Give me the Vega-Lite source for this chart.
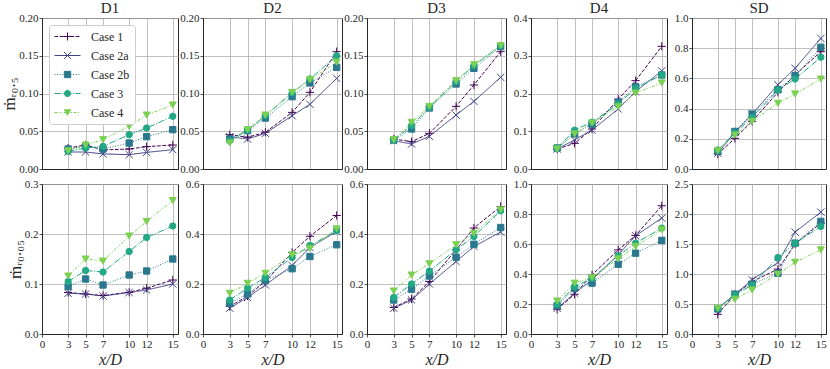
{
"$schema":"https://vega.github.io/schema/vega-lite/v6.json",
"padding":{"left":0,"top":0,"right":0,"bottom":0},
"data":{"values":[
{"p":"D1","r":"a","c":"Case 1","x":3,"y":0.0278},{"p":"D1","r":"a","c":"Case 1","x":5,"y":0.0318},{"p":"D1","r":"a","c":"Case 1","x":7,"y":0.0252},{"p":"D1","r":"a","c":"Case 1","x":10,"y":0.0265},{"p":"D1","r":"a","c":"Case 1","x":12,"y":0.0296},{"p":"D1","r":"a","c":"Case 1","x":15,"y":0.0318},
{"p":"D1","r":"a","c":"Case 2a","x":3,"y":0.0225},{"p":"D1","r":"a","c":"Case 2a","x":5,"y":0.0225},{"p":"D1","r":"a","c":"Case 2a","x":7,"y":0.020},{"p":"D1","r":"a","c":"Case 2a","x":10,"y":0.019},{"p":"D1","r":"a","c":"Case 2a","x":12,"y":0.022},{"p":"D1","r":"a","c":"Case 2a","x":15,"y":0.0256},
{"p":"D1","r":"a","c":"Case 2b","x":3,"y":0.0265},{"p":"D1","r":"a","c":"Case 2b","x":5,"y":0.030},{"p":"D1","r":"a","c":"Case 2b","x":7,"y":0.0265},{"p":"D1","r":"a","c":"Case 2b","x":10,"y":0.0344},{"p":"D1","r":"a","c":"Case 2b","x":12,"y":0.0428},{"p":"D1","r":"a","c":"Case 2b","x":15,"y":0.0521},
{"p":"D1","r":"a","c":"Case 3","x":3,"y":0.0234},{"p":"D1","r":"a","c":"Case 3","x":5,"y":0.0278},{"p":"D1","r":"a","c":"Case 3","x":7,"y":0.030},{"p":"D1","r":"a","c":"Case 3","x":10,"y":0.0455},{"p":"D1","r":"a","c":"Case 3","x":12,"y":0.0543},{"p":"D1","r":"a","c":"Case 3","x":15,"y":0.0698},
{"p":"D1","r":"a","c":"Case 4","x":3,"y":0.0243},{"p":"D1","r":"a","c":"Case 4","x":5,"y":0.0318},{"p":"D1","r":"a","c":"Case 4","x":7,"y":0.0389},{"p":"D1","r":"a","c":"Case 4","x":10,"y":0.0565},{"p":"D1","r":"a","c":"Case 4","x":12,"y":0.0715},{"p":"D1","r":"a","c":"Case 4","x":15,"y":0.0848},
{"p":"D2","r":"a","c":"Case 1","x":3,"y":0.0455},{"p":"D2","r":"a","c":"Case 1","x":5,"y":0.042},{"p":"D2","r":"a","c":"Case 1","x":7,"y":0.0486},{"p":"D2","r":"a","c":"Case 1","x":10,"y":0.075},{"p":"D2","r":"a","c":"Case 1","x":12,"y":0.1015},{"p":"D2","r":"a","c":"Case 1","x":15,"y":0.1554},
{"p":"D2","r":"a","c":"Case 2a","x":3,"y":0.0428},{"p":"D2","r":"a","c":"Case 2a","x":5,"y":0.0397},{"p":"D2","r":"a","c":"Case 2a","x":7,"y":0.0472},{"p":"D2","r":"a","c":"Case 2a","x":10,"y":0.0706},{"p":"D2","r":"a","c":"Case 2a","x":12,"y":0.0857},{"p":"D2","r":"a","c":"Case 2a","x":15,"y":0.120},
{"p":"D2","r":"a","c":"Case 2b","x":3,"y":0.0397},{"p":"D2","r":"a","c":"Case 2b","x":5,"y":0.0508},{"p":"D2","r":"a","c":"Case 2b","x":7,"y":0.0675},{"p":"D2","r":"a","c":"Case 2b","x":10,"y":0.0958},{"p":"D2","r":"a","c":"Case 2b","x":12,"y":0.114},{"p":"D2","r":"a","c":"Case 2b","x":15,"y":0.1347},
{"p":"D2","r":"a","c":"Case 3","x":3,"y":0.0375},{"p":"D2","r":"a","c":"Case 3","x":5,"y":0.0517},{"p":"D2","r":"a","c":"Case 3","x":7,"y":0.0706},{"p":"D2","r":"a","c":"Case 3","x":10,"y":0.1007},{"p":"D2","r":"a","c":"Case 3","x":12,"y":0.1192},{"p":"D2","r":"a","c":"Case 3","x":15,"y":0.150},
{"p":"D2","r":"a","c":"Case 4","x":3,"y":0.0344},{"p":"D2","r":"a","c":"Case 4","x":5,"y":0.052},{"p":"D2","r":"a","c":"Case 4","x":7,"y":0.0715},{"p":"D2","r":"a","c":"Case 4","x":10,"y":0.1015},{"p":"D2","r":"a","c":"Case 4","x":12,"y":0.1183},{"p":"D2","r":"a","c":"Case 4","x":15,"y":0.1413},
{"p":"D3","r":"a","c":"Case 1","x":3,"y":0.0397},{"p":"D3","r":"a","c":"Case 1","x":5,"y":0.0362},{"p":"D3","r":"a","c":"Case 1","x":7,"y":0.0472},{"p":"D3","r":"a","c":"Case 1","x":10,"y":0.083},{"p":"D3","r":"a","c":"Case 1","x":12,"y":0.1113},{"p":"D3","r":"a","c":"Case 1","x":15,"y":0.1554},
{"p":"D3","r":"a","c":"Case 2a","x":3,"y":0.0375},{"p":"D3","r":"a","c":"Case 2a","x":5,"y":0.0331},{"p":"D3","r":"a","c":"Case 2a","x":7,"y":0.0433},{"p":"D3","r":"a","c":"Case 2a","x":10,"y":0.0715},{"p":"D3","r":"a","c":"Case 2a","x":12,"y":0.0896},{"p":"D3","r":"a","c":"Case 2a","x":15,"y":0.1214},
{"p":"D3","r":"a","c":"Case 2b","x":3,"y":0.0384},{"p":"D3","r":"a","c":"Case 2b","x":5,"y":0.053},{"p":"D3","r":"a","c":"Case 2b","x":7,"y":0.0808},{"p":"D3","r":"a","c":"Case 2b","x":10,"y":0.1126},{"p":"D3","r":"a","c":"Case 2b","x":12,"y":0.1333},{"p":"D3","r":"a","c":"Case 2b","x":15,"y":0.162},
{"p":"D3","r":"a","c":"Case 3","x":3,"y":0.0384},{"p":"D3","r":"a","c":"Case 3","x":5,"y":0.0574},{"p":"D3","r":"a","c":"Case 3","x":7,"y":0.0817},{"p":"D3","r":"a","c":"Case 3","x":10,"y":0.116},{"p":"D3","r":"a","c":"Case 3","x":12,"y":0.1369},{"p":"D3","r":"a","c":"Case 3","x":15,"y":0.1634},
{"p":"D3","r":"a","c":"Case 4","x":3,"y":0.0389},{"p":"D3","r":"a","c":"Case 4","x":5,"y":0.0618},{"p":"D3","r":"a","c":"Case 4","x":7,"y":0.083},{"p":"D3","r":"a","c":"Case 4","x":10,"y":0.117},{"p":"D3","r":"a","c":"Case 4","x":12,"y":0.1382},{"p":"D3","r":"a","c":"Case 4","x":15,"y":0.1634},
{"p":"D4","r":"a","c":"Case 1","x":3,"y":0.053},{"p":"D4","r":"a","c":"Case 1","x":5,"y":0.068},{"p":"D4","r":"a","c":"Case 1","x":7,"y":0.106},{"p":"D4","r":"a","c":"Case 1","x":10,"y":0.185},{"p":"D4","r":"a","c":"Case 1","x":12,"y":0.234},{"p":"D4","r":"a","c":"Case 1","x":15,"y":0.325},
{"p":"D4","r":"a","c":"Case 2a","x":3,"y":0.053},{"p":"D4","r":"a","c":"Case 2a","x":5,"y":0.077},{"p":"D4","r":"a","c":"Case 2a","x":7,"y":0.103},{"p":"D4","r":"a","c":"Case 2a","x":10,"y":0.159},{"p":"D4","r":"a","c":"Case 2a","x":12,"y":0.205},{"p":"D4","r":"a","c":"Case 2a","x":15,"y":0.260},
{"p":"D4","r":"a","c":"Case 2b","x":3,"y":0.0556},{"p":"D4","r":"a","c":"Case 2b","x":5,"y":0.093},{"p":"D4","r":"a","c":"Case 2b","x":7,"y":0.119},{"p":"D4","r":"a","c":"Case 2b","x":10,"y":0.177},{"p":"D4","r":"a","c":"Case 2b","x":12,"y":0.218},{"p":"D4","r":"a","c":"Case 2b","x":15,"y":0.249},
{"p":"D4","r":"a","c":"Case 3","x":3,"y":0.0556},{"p":"D4","r":"a","c":"Case 3","x":5,"y":0.103},{"p":"D4","r":"a","c":"Case 3","x":7,"y":0.124},{"p":"D4","r":"a","c":"Case 3","x":10,"y":0.172},{"p":"D4","r":"a","c":"Case 3","x":12,"y":0.214},{"p":"D4","r":"a","c":"Case 3","x":15,"y":0.249},
{"p":"D4","r":"a","c":"Case 4","x":3,"y":0.053},{"p":"D4","r":"a","c":"Case 4","x":5,"y":0.093},{"p":"D4","r":"a","c":"Case 4","x":7,"y":0.122},{"p":"D4","r":"a","c":"Case 4","x":10,"y":0.165},{"p":"D4","r":"a","c":"Case 4","x":12,"y":0.201},{"p":"D4","r":"a","c":"Case 4","x":15,"y":0.228},
{"p":"SD","r":"a","c":"Case 1","x":3,"y":0.099},{"p":"SD","r":"a","c":"Case 1","x":5,"y":0.203},{"p":"SD","r":"a","c":"Case 1","x":7,"y":0.316},{"p":"SD","r":"a","c":"Case 1","x":10,"y":0.508},{"p":"SD","r":"a","c":"Case 1","x":12,"y":0.623},{"p":"SD","r":"a","c":"Case 1","x":15,"y":0.777},
{"p":"SD","r":"a","c":"Case 2a","x":3,"y":0.104},{"p":"SD","r":"a","c":"Case 2a","x":5,"y":0.243},{"p":"SD","r":"a","c":"Case 2a","x":7,"y":0.364},{"p":"SD","r":"a","c":"Case 2a","x":10,"y":0.558},{"p":"SD","r":"a","c":"Case 2a","x":12,"y":0.667},{"p":"SD","r":"a","c":"Case 2a","x":15,"y":0.865},
{"p":"SD","r":"a","c":"Case 2b","x":3,"y":0.117},{"p":"SD","r":"a","c":"Case 2b","x":5,"y":0.249},{"p":"SD","r":"a","c":"Case 2b","x":7,"y":0.364},{"p":"SD","r":"a","c":"Case 2b","x":10,"y":0.525},{"p":"SD","r":"a","c":"Case 2b","x":12,"y":0.618},{"p":"SD","r":"a","c":"Case 2b","x":15,"y":0.806},
{"p":"SD","r":"a","c":"Case 3","x":3,"y":0.126},{"p":"SD","r":"a","c":"Case 3","x":5,"y":0.238},{"p":"SD","r":"a","c":"Case 3","x":7,"y":0.342},{"p":"SD","r":"a","c":"Case 3","x":10,"y":0.523},{"p":"SD","r":"a","c":"Case 3","x":12,"y":0.596},{"p":"SD","r":"a","c":"Case 3","x":15,"y":0.740},
{"p":"SD","r":"a","c":"Case 4","x":3,"y":0.121},{"p":"SD","r":"a","c":"Case 4","x":5,"y":0.225},{"p":"SD","r":"a","c":"Case 4","x":7,"y":0.316},{"p":"SD","r":"a","c":"Case 4","x":10,"y":0.435},{"p":"SD","r":"a","c":"Case 4","x":12,"y":0.497},{"p":"SD","r":"a","c":"Case 4","x":15,"y":0.596},
{"p":"D1","r":"b","c":"Case 1","x":3,"y":0.083},{"p":"D1","r":"b","c":"Case 1","x":5,"y":0.080},{"p":"D1","r":"b","c":"Case 1","x":7,"y":0.077},{"p":"D1","r":"b","c":"Case 1","x":10,"y":0.0835},{"p":"D1","r":"b","c":"Case 1","x":12,"y":0.0915},{"p":"D1","r":"b","c":"Case 1","x":15,"y":0.108},
{"p":"D1","r":"b","c":"Case 2a","x":3,"y":0.0815},{"p":"D1","r":"b","c":"Case 2a","x":5,"y":0.080},{"p":"D1","r":"b","c":"Case 2a","x":7,"y":0.076},{"p":"D1","r":"b","c":"Case 2a","x":10,"y":0.083},{"p":"D1","r":"b","c":"Case 2a","x":12,"y":0.088},{"p":"D1","r":"b","c":"Case 2a","x":15,"y":0.100},
{"p":"D1","r":"b","c":"Case 2b","x":3,"y":0.095},{"p":"D1","r":"b","c":"Case 2b","x":5,"y":0.110},{"p":"D1","r":"b","c":"Case 2b","x":7,"y":0.098},{"p":"D1","r":"b","c":"Case 2b","x":10,"y":0.118},{"p":"D1","r":"b","c":"Case 2b","x":12,"y":0.126},{"p":"D1","r":"b","c":"Case 2b","x":15,"y":0.150},
{"p":"D1","r":"b","c":"Case 3","x":3,"y":0.105},{"p":"D1","r":"b","c":"Case 3","x":5,"y":0.127},{"p":"D1","r":"b","c":"Case 3","x":7,"y":0.124},{"p":"D1","r":"b","c":"Case 3","x":10,"y":0.165},{"p":"D1","r":"b","c":"Case 3","x":12,"y":0.193},{"p":"D1","r":"b","c":"Case 3","x":15,"y":0.216},
{"p":"D1","r":"b","c":"Case 4","x":3,"y":0.116},{"p":"D1","r":"b","c":"Case 4","x":5,"y":0.150},{"p":"D1","r":"b","c":"Case 4","x":7,"y":0.146},{"p":"D1","r":"b","c":"Case 4","x":10,"y":0.196},{"p":"D1","r":"b","c":"Case 4","x":12,"y":0.225},{"p":"D1","r":"b","c":"Case 4","x":15,"y":0.267},
{"p":"D2","r":"b","c":"Case 1","x":3,"y":0.110},{"p":"D2","r":"b","c":"Case 1","x":5,"y":0.152},{"p":"D2","r":"b","c":"Case 1","x":7,"y":0.210},{"p":"D2","r":"b","c":"Case 1","x":10,"y":0.326},{"p":"D2","r":"b","c":"Case 1","x":12,"y":0.391},{"p":"D2","r":"b","c":"Case 1","x":15,"y":0.474},
{"p":"D2","r":"b","c":"Case 2a","x":3,"y":0.103},{"p":"D2","r":"b","c":"Case 2a","x":5,"y":0.146},{"p":"D2","r":"b","c":"Case 2a","x":7,"y":0.196},{"p":"D2","r":"b","c":"Case 2a","x":10,"y":0.274},{"p":"D2","r":"b","c":"Case 2a","x":12,"y":0.346},{"p":"D2","r":"b","c":"Case 2a","x":15,"y":0.410},
{"p":"D2","r":"b","c":"Case 2b","x":3,"y":0.123},{"p":"D2","r":"b","c":"Case 2b","x":5,"y":0.160},{"p":"D2","r":"b","c":"Case 2b","x":7,"y":0.214},{"p":"D2","r":"b","c":"Case 2b","x":10,"y":0.261},{"p":"D2","r":"b","c":"Case 2b","x":12,"y":0.310},{"p":"D2","r":"b","c":"Case 2b","x":15,"y":0.357},
{"p":"D2","r":"b","c":"Case 3","x":3,"y":0.136},{"p":"D2","r":"b","c":"Case 3","x":5,"y":0.183},{"p":"D2","r":"b","c":"Case 3","x":7,"y":0.226},{"p":"D2","r":"b","c":"Case 3","x":10,"y":0.306},{"p":"D2","r":"b","c":"Case 3","x":12,"y":0.354},{"p":"D2","r":"b","c":"Case 3","x":15,"y":0.413},
{"p":"D2","r":"b","c":"Case 4","x":3,"y":0.163},{"p":"D2","r":"b","c":"Case 4","x":5,"y":0.203},{"p":"D2","r":"b","c":"Case 4","x":7,"y":0.243},{"p":"D2","r":"b","c":"Case 4","x":10,"y":0.317},{"p":"D2","r":"b","c":"Case 4","x":12,"y":0.343},{"p":"D2","r":"b","c":"Case 4","x":15,"y":0.421},
{"p":"D3","r":"b","c":"Case 1","x":3,"y":0.106},{"p":"D3","r":"b","c":"Case 1","x":5,"y":0.140},{"p":"D3","r":"b","c":"Case 1","x":7,"y":0.210},{"p":"D3","r":"b","c":"Case 1","x":10,"y":0.337},{"p":"D3","r":"b","c":"Case 1","x":12,"y":0.424},{"p":"D3","r":"b","c":"Case 1","x":15,"y":0.510},
{"p":"D3","r":"b","c":"Case 2a","x":3,"y":0.103},{"p":"D3","r":"b","c":"Case 2a","x":5,"y":0.136},{"p":"D3","r":"b","c":"Case 2a","x":7,"y":0.200},{"p":"D3","r":"b","c":"Case 2a","x":10,"y":0.290},{"p":"D3","r":"b","c":"Case 2a","x":12,"y":0.350},{"p":"D3","r":"b","c":"Case 2a","x":15,"y":0.408},
{"p":"D3","r":"b","c":"Case 2b","x":3,"y":0.136},{"p":"D3","r":"b","c":"Case 2b","x":5,"y":0.179},{"p":"D3","r":"b","c":"Case 2b","x":7,"y":0.232},{"p":"D3","r":"b","c":"Case 2b","x":10,"y":0.307},{"p":"D3","r":"b","c":"Case 2b","x":12,"y":0.359},{"p":"D3","r":"b","c":"Case 2b","x":15,"y":0.426},
{"p":"D3","r":"b","c":"Case 3","x":3,"y":0.146},{"p":"D3","r":"b","c":"Case 3","x":5,"y":0.200},{"p":"D3","r":"b","c":"Case 3","x":7,"y":0.252},{"p":"D3","r":"b","c":"Case 3","x":10,"y":0.337},{"p":"D3","r":"b","c":"Case 3","x":12,"y":0.390},{"p":"D3","r":"b","c":"Case 3","x":15,"y":0.493},
{"p":"D3","r":"b","c":"Case 4","x":3,"y":0.172},{"p":"D3","r":"b","c":"Case 4","x":5,"y":0.236},{"p":"D3","r":"b","c":"Case 4","x":7,"y":0.281},{"p":"D3","r":"b","c":"Case 4","x":10,"y":0.357},{"p":"D3","r":"b","c":"Case 4","x":12,"y":0.403},{"p":"D3","r":"b","c":"Case 4","x":15,"y":0.497},
{"p":"D4","r":"b","c":"Case 1","x":3,"y":0.165},{"p":"D4","r":"b","c":"Case 1","x":5,"y":0.265},{"p":"D4","r":"b","c":"Case 1","x":7,"y":0.394},{"p":"D4","r":"b","c":"Case 1","x":10,"y":0.561},{"p":"D4","r":"b","c":"Case 1","x":12,"y":0.657},{"p":"D4","r":"b","c":"Case 1","x":15,"y":0.855},
{"p":"D4","r":"b","c":"Case 2a","x":3,"y":0.171},{"p":"D4","r":"b","c":"Case 2a","x":5,"y":0.272},{"p":"D4","r":"b","c":"Case 2a","x":7,"y":0.361},{"p":"D4","r":"b","c":"Case 2a","x":10,"y":0.528},{"p":"D4","r":"b","c":"Case 2a","x":12,"y":0.655},{"p":"D4","r":"b","c":"Case 2a","x":15,"y":0.773},
{"p":"D4","r":"b","c":"Case 2b","x":3,"y":0.189},{"p":"D4","r":"b","c":"Case 2b","x":5,"y":0.305},{"p":"D4","r":"b","c":"Case 2b","x":7,"y":0.339},{"p":"D4","r":"b","c":"Case 2b","x":10,"y":0.465},{"p":"D4","r":"b","c":"Case 2b","x":12,"y":0.539},{"p":"D4","r":"b","c":"Case 2b","x":15,"y":0.624},
{"p":"D4","r":"b","c":"Case 3","x":3,"y":0.198},{"p":"D4","r":"b","c":"Case 3","x":5,"y":0.316},{"p":"D4","r":"b","c":"Case 3","x":7,"y":0.372},{"p":"D4","r":"b","c":"Case 3","x":10,"y":0.521},{"p":"D4","r":"b","c":"Case 3","x":12,"y":0.606},{"p":"D4","r":"b","c":"Case 3","x":15,"y":0.706},
{"p":"D4","r":"b","c":"Case 4","x":3,"y":0.220},{"p":"D4","r":"b","c":"Case 4","x":5,"y":0.339},{"p":"D4","r":"b","c":"Case 4","x":7,"y":0.376},{"p":"D4","r":"b","c":"Case 4","x":10,"y":0.501},{"p":"D4","r":"b","c":"Case 4","x":12,"y":0.584},{"p":"D4","r":"b","c":"Case 4","x":15,"y":0.695},
{"p":"SD","r":"b","c":"Case 1","x":3,"y":0.328},{"p":"SD","r":"b","c":"Case 1","x":5,"y":0.663},{"p":"SD","r":"b","c":"Case 1","x":7,"y":0.874},{"p":"SD","r":"b","c":"Case 1","x":10,"y":1.080},{"p":"SD","r":"b","c":"Case 1","x":12,"y":1.498},{"p":"SD","r":"b","c":"Case 1","x":15,"y":1.849},
{"p":"SD","r":"b","c":"Case 2a","x":3,"y":0.429},{"p":"SD","r":"b","c":"Case 2a","x":5,"y":0.663},{"p":"SD","r":"b","c":"Case 2a","x":7,"y":0.902},{"p":"SD","r":"b","c":"Case 2a","x":10,"y":1.192},{"p":"SD","r":"b","c":"Case 2a","x":12,"y":1.698},{"p":"SD","r":"b","c":"Case 2a","x":15,"y":2.032},
{"p":"SD","r":"b","c":"Case 2b","x":3,"y":0.418},{"p":"SD","r":"b","c":"Case 2b","x":5,"y":0.663},{"p":"SD","r":"b","c":"Case 2b","x":7,"y":0.830},{"p":"SD","r":"b","c":"Case 2b","x":10,"y":1.013},{"p":"SD","r":"b","c":"Case 2b","x":12,"y":1.514},{"p":"SD","r":"b","c":"Case 2b","x":15,"y":1.876},
{"p":"SD","r":"b","c":"Case 3","x":3,"y":0.429},{"p":"SD","r":"b","c":"Case 3","x":5,"y":0.651},{"p":"SD","r":"b","c":"Case 3","x":7,"y":0.818},{"p":"SD","r":"b","c":"Case 3","x":10,"y":1.275},{"p":"SD","r":"b","c":"Case 3","x":12,"y":1.514},{"p":"SD","r":"b","c":"Case 3","x":15,"y":1.793},
{"p":"SD","r":"b","c":"Case 4","x":3,"y":0.429},{"p":"SD","r":"b","c":"Case 4","x":5,"y":0.579},{"p":"SD","r":"b","c":"Case 4","x":7,"y":0.735},{"p":"SD","r":"b","c":"Case 4","x":10,"y":0.997},{"p":"SD","r":"b","c":"Case 4","x":12,"y":1.197},{"p":"SD","r":"b","c":"Case 4","x":15,"y":1.403}
]},
"columns":5,
"align":"each",
"bounds":"flush",
"spacing":{"row":15,"column":25},
"resolve":{"scale":{"x":"independent","y":"independent"}},
"concat":[
  {"width":136,"height":151,"title":"D1","transform":[{"filter":"datum.p=='D1' && datum.r=='a'"}],
   "encoding":{
    "x":{"field":"x","type":"quantitative","scale":{"domain":[0,15.6],"nice":false},"axis":{"values":[0,3,5,7,10,12,15],"labels":false,"ticks":false,"title":null}},
    "y":{"field":"y","type":"quantitative","scale":{"domain":[0,0.2],"nice":false},"axis":{"values":[0,0.05,0.1,0.15,0.2],"format":".2f","title":"ṁᵣ₀.₅"}}
   },
   "layer":[
    {"mark":{"type":"line","strokeWidth":1},"encoding":{"color":{"field":"c","type":"nominal","legend":null,"scale":{"range":["#440154","#414487","#2a788e","#22a884","#7ad151"]}},"strokeDash":{"field":"c","type":"nominal","legend":null,"scale":{"range":[[3.7,1.6],[1,0],[1,1.65],[6.4,1.6,1,1.6],[3,1.5,1,1.5,1,1.5]]}}}},
    {"transform":[{"filter":"datum.c=='Case 1'"}],"mark":{"type":"point","shape":"M-1.3,0L1.3,0M0,-1.3L0,1.3","filled":true,"opacity":1,"size":40,"strokeWidth":1,"color":"#440154","stroke":"#440154"}},
    {"transform":[{"filter":"datum.c=='Case 2a'"}],"mark":{"type":"point","shape":"M-1.15,-1.15L1.15,1.15M-1.15,1.15L1.15,-1.15","filled":true,"opacity":1,"size":40,"strokeWidth":1,"color":"#414487","stroke":"#414487"}},
    {"transform":[{"filter":"datum.c=='Case 2b'"}],"mark":{"type":"point","shape":"square","filled":true,"opacity":1,"size":40,"strokeWidth":1,"color":"#2a788e","stroke":"#2a788e"}},
    {"transform":[{"filter":"datum.c=='Case 3'"}],"mark":{"type":"point","shape":"circle","filled":true,"opacity":1,"size":40,"strokeWidth":1,"color":"#22a884","stroke":"#22a884"}},
    {"transform":[{"filter":"datum.c=='Case 4'"}],"mark":{"type":"point","shape":"triangle-down","filled":true,"opacity":1,"size":48,"strokeWidth":1,"color":"#7ad151","stroke":"#7ad151"}},
    {"mark":{"type":"point","opacity":0,"strokeWidth":1},
     "encoding":{
      "shape":{"field":"c","type":"nominal","scale":{"domain":["Case 1","Case 2a","Case 2b","Case 3","Case 4"],"range":[
        "M-1,0L-0.383,0M-0.117,0L0.5,0M0.767,0L1.383,0M1.65,0L2.267,0M2.533,0L3.15,0M1.1667,-0.667L1.1667,0.667M0.5,0L1.833,0",
        "M-1,0L3.333,0M0.567,-0.6L1.767,0.6M0.567,0.6L1.767,-0.6",
        "M-1,0L-0.833,0M-0.558,0L-0.392,0M-0.117,0L0.05,0M0.325,0L0.492,0M0.767,0L0.933,0M1.208,0L1.375,0M1.65,0L1.817,0M2.092,0L2.258,0M2.533,0L2.7,0M2.975,0L3.142,0M0.642,-0.525L1.692,-0.525L1.692,0.525L0.642,0.525Z",
        "M-1,0L0.0667,0M0.333,0L0.5,0M0.767,0L1.833,0M2.1,0L2.267,0M2.533,0L3.333,0M1.6917,0A0.525,0.525,0,1,1,0.6417,0A0.525,0.525,0,1,1,1.6917,0Z",
        "M-1,0L-0.5,0M-0.25,0L-0.0833,0M0.1667,0L0.3333,0M0.5833,0L1.0833,0M1.3333,0L1.5,0M1.75,0L1.9167,0M2.1667,0L2.6667,0M2.9167,0L3.0833,0M1.1667,0.46L0.6417,-0.46L1.6917,-0.46Z"]},
       "legend":{"title":null,"orient":"none","legendX":7,"legendY":7,"symbolSize":144,"symbolOpacity":1}},
      "fill":{"field":"c","type":"nominal","scale":{"domain":["Case 1","Case 2a","Case 2b","Case 3","Case 4"],"range":["#440154","#414487","#2a788e","#22a884","#7ad151"]},"legend":{"title":null,"orient":"none","legendX":7,"legendY":7,"symbolSize":144,"symbolOpacity":1}},
      "stroke":{"field":"c","type":"nominal","scale":{"domain":["Case 1","Case 2a","Case 2b","Case 3","Case 4"],"range":["#440154","#414487","#2a788e","#22a884","#7ad151"]},"legend":{"title":null,"orient":"none","legendX":7,"legendY":7,"symbolSize":144,"symbolOpacity":1}}
     }}
   ]},
  {"width":139,"height":151,"title":"D2","transform":[{"filter":"datum.p=='D2' && datum.r=='a'"}],
   "encoding":{
    "x":{"field":"x","type":"quantitative","scale":{"domain":[0,15.6],"nice":false},"axis":{"values":[0,3,5,7,10,12,15],"labels":false,"ticks":false,"title":null}},
    "y":{"field":"y","type":"quantitative","scale":{"domain":[0,0.2],"nice":false},"axis":{"values":[0,0.05,0.1,0.15,0.2],"format":".2f","title":null}}
   },
   "layer":[
    {"mark":{"type":"line","strokeWidth":1},"encoding":{"color":{"field":"c","type":"nominal","legend":null},"strokeDash":{"field":"c","type":"nominal","legend":null}}},
    {"transform":[{"filter":"datum.c=='Case 1'"}],"mark":{"type":"point","shape":"M-1.3,0L1.3,0M0,-1.3L0,1.3","filled":true,"opacity":1,"size":40,"strokeWidth":1,"color":"#440154","stroke":"#440154"}},
    {"transform":[{"filter":"datum.c=='Case 2a'"}],"mark":{"type":"point","shape":"M-1.15,-1.15L1.15,1.15M-1.15,1.15L1.15,-1.15","filled":true,"opacity":1,"size":40,"strokeWidth":1,"color":"#414487","stroke":"#414487"}},
    {"transform":[{"filter":"datum.c=='Case 2b'"}],"mark":{"type":"point","shape":"square","filled":true,"opacity":1,"size":40,"strokeWidth":1,"color":"#2a788e","stroke":"#2a788e"}},
    {"transform":[{"filter":"datum.c=='Case 3'"}],"mark":{"type":"point","shape":"circle","filled":true,"opacity":1,"size":40,"strokeWidth":1,"color":"#22a884","stroke":"#22a884"}},
    {"transform":[{"filter":"datum.c=='Case 4'"}],"mark":{"type":"point","shape":"triangle-down","filled":true,"opacity":1,"size":48,"strokeWidth":1,"color":"#7ad151","stroke":"#7ad151"}}
   ]},
  {"width":139,"height":151,"title":"D3","transform":[{"filter":"datum.p=='D3' && datum.r=='a'"}],
   "encoding":{
    "x":{"field":"x","type":"quantitative","scale":{"domain":[0,15.6],"nice":false},"axis":{"values":[0,3,5,7,10,12,15],"labels":false,"ticks":false,"title":null}},
    "y":{"field":"y","type":"quantitative","scale":{"domain":[0,0.2],"nice":false},"axis":{"values":[0,0.05,0.1,0.15,0.2],"format":".2f","title":null}}
   },
   "layer":[
    {"mark":{"type":"line","strokeWidth":1},"encoding":{"color":{"field":"c","type":"nominal","legend":null},"strokeDash":{"field":"c","type":"nominal","legend":null}}},
    {"transform":[{"filter":"datum.c=='Case 1'"}],"mark":{"type":"point","shape":"M-1.3,0L1.3,0M0,-1.3L0,1.3","filled":true,"opacity":1,"size":40,"strokeWidth":1,"color":"#440154","stroke":"#440154"}},
    {"transform":[{"filter":"datum.c=='Case 2a'"}],"mark":{"type":"point","shape":"M-1.15,-1.15L1.15,1.15M-1.15,1.15L1.15,-1.15","filled":true,"opacity":1,"size":40,"strokeWidth":1,"color":"#414487","stroke":"#414487"}},
    {"transform":[{"filter":"datum.c=='Case 2b'"}],"mark":{"type":"point","shape":"square","filled":true,"opacity":1,"size":40,"strokeWidth":1,"color":"#2a788e","stroke":"#2a788e"}},
    {"transform":[{"filter":"datum.c=='Case 3'"}],"mark":{"type":"point","shape":"circle","filled":true,"opacity":1,"size":40,"strokeWidth":1,"color":"#22a884","stroke":"#22a884"}},
    {"transform":[{"filter":"datum.c=='Case 4'"}],"mark":{"type":"point","shape":"triangle-down","filled":true,"opacity":1,"size":48,"strokeWidth":1,"color":"#7ad151","stroke":"#7ad151"}}
   ]},
  {"width":136,"height":151,"title":"D4","transform":[{"filter":"datum.p=='D4' && datum.r=='a'"}],
   "encoding":{
    "x":{"field":"x","type":"quantitative","scale":{"domain":[0,15.6],"nice":false},"axis":{"values":[0,3,5,7,10,12,15],"labels":false,"ticks":false,"title":null}},
    "y":{"field":"y","type":"quantitative","scale":{"domain":[0,0.4],"nice":false},"axis":{"values":[0,0.1,0.2,0.3,0.4],"format":".1f","title":null}}
   },
   "layer":[
    {"mark":{"type":"line","strokeWidth":1},"encoding":{"color":{"field":"c","type":"nominal","legend":null},"strokeDash":{"field":"c","type":"nominal","legend":null}}},
    {"transform":[{"filter":"datum.c=='Case 1'"}],"mark":{"type":"point","shape":"M-1.3,0L1.3,0M0,-1.3L0,1.3","filled":true,"opacity":1,"size":40,"strokeWidth":1,"color":"#440154","stroke":"#440154"}},
    {"transform":[{"filter":"datum.c=='Case 2a'"}],"mark":{"type":"point","shape":"M-1.15,-1.15L1.15,1.15M-1.15,1.15L1.15,-1.15","filled":true,"opacity":1,"size":40,"strokeWidth":1,"color":"#414487","stroke":"#414487"}},
    {"transform":[{"filter":"datum.c=='Case 2b'"}],"mark":{"type":"point","shape":"square","filled":true,"opacity":1,"size":40,"strokeWidth":1,"color":"#2a788e","stroke":"#2a788e"}},
    {"transform":[{"filter":"datum.c=='Case 3'"}],"mark":{"type":"point","shape":"circle","filled":true,"opacity":1,"size":40,"strokeWidth":1,"color":"#22a884","stroke":"#22a884"}},
    {"transform":[{"filter":"datum.c=='Case 4'"}],"mark":{"type":"point","shape":"triangle-down","filled":true,"opacity":1,"size":48,"strokeWidth":1,"color":"#7ad151","stroke":"#7ad151"}}
   ]},
  {"width":134,"height":151,"title":"SD","transform":[{"filter":"datum.p=='SD' && datum.r=='a'"}],
   "encoding":{
    "x":{"field":"x","type":"quantitative","scale":{"domain":[0,15.6],"nice":false},"axis":{"values":[0,3,5,7,10,12,15],"labels":false,"ticks":false,"title":null}},
    "y":{"field":"y","type":"quantitative","scale":{"domain":[0,1.0],"nice":false},"axis":{"values":[0,0.2,0.4,0.6,0.8,1.0],"format":".1f","title":null}}
   },
   "layer":[
    {"mark":{"type":"line","strokeWidth":1},"encoding":{"color":{"field":"c","type":"nominal","legend":null},"strokeDash":{"field":"c","type":"nominal","legend":null}}},
    {"transform":[{"filter":"datum.c=='Case 1'"}],"mark":{"type":"point","shape":"M-1.3,0L1.3,0M0,-1.3L0,1.3","filled":true,"opacity":1,"size":40,"strokeWidth":1,"color":"#440154","stroke":"#440154"}},
    {"transform":[{"filter":"datum.c=='Case 2a'"}],"mark":{"type":"point","shape":"M-1.15,-1.15L1.15,1.15M-1.15,1.15L1.15,-1.15","filled":true,"opacity":1,"size":40,"strokeWidth":1,"color":"#414487","stroke":"#414487"}},
    {"transform":[{"filter":"datum.c=='Case 2b'"}],"mark":{"type":"point","shape":"square","filled":true,"opacity":1,"size":40,"strokeWidth":1,"color":"#2a788e","stroke":"#2a788e"}},
    {"transform":[{"filter":"datum.c=='Case 3'"}],"mark":{"type":"point","shape":"circle","filled":true,"opacity":1,"size":40,"strokeWidth":1,"color":"#22a884","stroke":"#22a884"}},
    {"transform":[{"filter":"datum.c=='Case 4'"}],"mark":{"type":"point","shape":"triangle-down","filled":true,"opacity":1,"size":48,"strokeWidth":1,"color":"#7ad151","stroke":"#7ad151"}}
   ]},
  {"width":136,"height":150,"transform":[{"filter":"datum.p=='D1' && datum.r=='b'"}],
   "encoding":{
    "x":{"field":"x","type":"quantitative","scale":{"domain":[0,15.6],"nice":false},"axis":{"values":[0,3,5,7,10,12,15],"title":"x/D"}},
    "y":{"field":"y","type":"quantitative","scale":{"domain":[0,0.3],"nice":false},"axis":{"values":[0,0.1,0.2,0.3],"format":".1f","title":"ṁᵣ₀.₀₅"}}
   },
   "layer":[
    {"mark":{"type":"line","strokeWidth":1},"encoding":{"color":{"field":"c","type":"nominal","legend":null},"strokeDash":{"field":"c","type":"nominal","legend":null}}},
    {"transform":[{"filter":"datum.c=='Case 1'"}],"mark":{"type":"point","shape":"M-1.3,0L1.3,0M0,-1.3L0,1.3","filled":true,"opacity":1,"size":40,"strokeWidth":1,"color":"#440154","stroke":"#440154"}},
    {"transform":[{"filter":"datum.c=='Case 2a'"}],"mark":{"type":"point","shape":"M-1.15,-1.15L1.15,1.15M-1.15,1.15L1.15,-1.15","filled":true,"opacity":1,"size":40,"strokeWidth":1,"color":"#414487","stroke":"#414487"}},
    {"transform":[{"filter":"datum.c=='Case 2b'"}],"mark":{"type":"point","shape":"square","filled":true,"opacity":1,"size":40,"strokeWidth":1,"color":"#2a788e","stroke":"#2a788e"}},
    {"transform":[{"filter":"datum.c=='Case 3'"}],"mark":{"type":"point","shape":"circle","filled":true,"opacity":1,"size":40,"strokeWidth":1,"color":"#22a884","stroke":"#22a884"}},
    {"transform":[{"filter":"datum.c=='Case 4'"}],"mark":{"type":"point","shape":"triangle-down","filled":true,"opacity":1,"size":48,"strokeWidth":1,"color":"#7ad151","stroke":"#7ad151"}}
   ]},
  {"width":139,"height":150,"transform":[{"filter":"datum.p=='D2' && datum.r=='b'"}],
   "encoding":{
    "x":{"field":"x","type":"quantitative","scale":{"domain":[0,15.6],"nice":false},"axis":{"values":[0,3,5,7,10,12,15],"title":"x/D"}},
    "y":{"field":"y","type":"quantitative","scale":{"domain":[0,0.6],"nice":false},"axis":{"values":[0,0.2,0.4,0.6],"format":".1f","title":null}}
   },
   "layer":[
    {"mark":{"type":"line","strokeWidth":1},"encoding":{"color":{"field":"c","type":"nominal","legend":null},"strokeDash":{"field":"c","type":"nominal","legend":null}}},
    {"transform":[{"filter":"datum.c=='Case 1'"}],"mark":{"type":"point","shape":"M-1.3,0L1.3,0M0,-1.3L0,1.3","filled":true,"opacity":1,"size":40,"strokeWidth":1,"color":"#440154","stroke":"#440154"}},
    {"transform":[{"filter":"datum.c=='Case 2a'"}],"mark":{"type":"point","shape":"M-1.15,-1.15L1.15,1.15M-1.15,1.15L1.15,-1.15","filled":true,"opacity":1,"size":40,"strokeWidth":1,"color":"#414487","stroke":"#414487"}},
    {"transform":[{"filter":"datum.c=='Case 2b'"}],"mark":{"type":"point","shape":"square","filled":true,"opacity":1,"size":40,"strokeWidth":1,"color":"#2a788e","stroke":"#2a788e"}},
    {"transform":[{"filter":"datum.c=='Case 3'"}],"mark":{"type":"point","shape":"circle","filled":true,"opacity":1,"size":40,"strokeWidth":1,"color":"#22a884","stroke":"#22a884"}},
    {"transform":[{"filter":"datum.c=='Case 4'"}],"mark":{"type":"point","shape":"triangle-down","filled":true,"opacity":1,"size":48,"strokeWidth":1,"color":"#7ad151","stroke":"#7ad151"}}
   ]},
  {"width":139,"height":150,"transform":[{"filter":"datum.p=='D3' && datum.r=='b'"}],
   "encoding":{
    "x":{"field":"x","type":"quantitative","scale":{"domain":[0,15.6],"nice":false},"axis":{"values":[0,3,5,7,10,12,15],"title":"x/D"}},
    "y":{"field":"y","type":"quantitative","scale":{"domain":[0,0.6],"nice":false},"axis":{"values":[0,0.2,0.4,0.6],"format":".1f","title":null}}
   },
   "layer":[
    {"mark":{"type":"line","strokeWidth":1},"encoding":{"color":{"field":"c","type":"nominal","legend":null},"strokeDash":{"field":"c","type":"nominal","legend":null}}},
    {"transform":[{"filter":"datum.c=='Case 1'"}],"mark":{"type":"point","shape":"M-1.3,0L1.3,0M0,-1.3L0,1.3","filled":true,"opacity":1,"size":40,"strokeWidth":1,"color":"#440154","stroke":"#440154"}},
    {"transform":[{"filter":"datum.c=='Case 2a'"}],"mark":{"type":"point","shape":"M-1.15,-1.15L1.15,1.15M-1.15,1.15L1.15,-1.15","filled":true,"opacity":1,"size":40,"strokeWidth":1,"color":"#414487","stroke":"#414487"}},
    {"transform":[{"filter":"datum.c=='Case 2b'"}],"mark":{"type":"point","shape":"square","filled":true,"opacity":1,"size":40,"strokeWidth":1,"color":"#2a788e","stroke":"#2a788e"}},
    {"transform":[{"filter":"datum.c=='Case 3'"}],"mark":{"type":"point","shape":"circle","filled":true,"opacity":1,"size":40,"strokeWidth":1,"color":"#22a884","stroke":"#22a884"}},
    {"transform":[{"filter":"datum.c=='Case 4'"}],"mark":{"type":"point","shape":"triangle-down","filled":true,"opacity":1,"size":48,"strokeWidth":1,"color":"#7ad151","stroke":"#7ad151"}}
   ]},
  {"width":136,"height":150,"transform":[{"filter":"datum.p=='D4' && datum.r=='b'"}],
   "encoding":{
    "x":{"field":"x","type":"quantitative","scale":{"domain":[0,15.6],"nice":false},"axis":{"values":[0,3,5,7,10,12,15],"title":"x/D"}},
    "y":{"field":"y","type":"quantitative","scale":{"domain":[0,1.0],"nice":false},"axis":{"values":[0,0.2,0.4,0.6,0.8,1.0],"format":".1f","title":null}}
   },
   "layer":[
    {"mark":{"type":"line","strokeWidth":1},"encoding":{"color":{"field":"c","type":"nominal","legend":null},"strokeDash":{"field":"c","type":"nominal","legend":null}}},
    {"transform":[{"filter":"datum.c=='Case 1'"}],"mark":{"type":"point","shape":"M-1.3,0L1.3,0M0,-1.3L0,1.3","filled":true,"opacity":1,"size":40,"strokeWidth":1,"color":"#440154","stroke":"#440154"}},
    {"transform":[{"filter":"datum.c=='Case 2a'"}],"mark":{"type":"point","shape":"M-1.15,-1.15L1.15,1.15M-1.15,1.15L1.15,-1.15","filled":true,"opacity":1,"size":40,"strokeWidth":1,"color":"#414487","stroke":"#414487"}},
    {"transform":[{"filter":"datum.c=='Case 2b'"}],"mark":{"type":"point","shape":"square","filled":true,"opacity":1,"size":40,"strokeWidth":1,"color":"#2a788e","stroke":"#2a788e"}},
    {"transform":[{"filter":"datum.c=='Case 3'"}],"mark":{"type":"point","shape":"circle","filled":true,"opacity":1,"size":40,"strokeWidth":1,"color":"#22a884","stroke":"#22a884"}},
    {"transform":[{"filter":"datum.c=='Case 4'"}],"mark":{"type":"point","shape":"triangle-down","filled":true,"opacity":1,"size":48,"strokeWidth":1,"color":"#7ad151","stroke":"#7ad151"}}
   ]},
  {"width":134,"height":150,"transform":[{"filter":"datum.p=='SD' && datum.r=='b'"}],
   "encoding":{
    "x":{"field":"x","type":"quantitative","scale":{"domain":[0,15.6],"nice":false},"axis":{"values":[0,3,5,7,10,12,15],"title":"x/D"}},
    "y":{"field":"y","type":"quantitative","scale":{"domain":[0,2.5],"nice":false},"axis":{"values":[0,0.5,1.0,1.5,2.0,2.5],"format":".1f","title":null}}
   },
   "layer":[
    {"mark":{"type":"line","strokeWidth":1},"encoding":{"color":{"field":"c","type":"nominal","legend":null},"strokeDash":{"field":"c","type":"nominal","legend":null}}},
    {"transform":[{"filter":"datum.c=='Case 1'"}],"mark":{"type":"point","shape":"M-1.3,0L1.3,0M0,-1.3L0,1.3","filled":true,"opacity":1,"size":40,"strokeWidth":1,"color":"#440154","stroke":"#440154"}},
    {"transform":[{"filter":"datum.c=='Case 2a'"}],"mark":{"type":"point","shape":"M-1.15,-1.15L1.15,1.15M-1.15,1.15L1.15,-1.15","filled":true,"opacity":1,"size":40,"strokeWidth":1,"color":"#414487","stroke":"#414487"}},
    {"transform":[{"filter":"datum.c=='Case 2b'"}],"mark":{"type":"point","shape":"square","filled":true,"opacity":1,"size":40,"strokeWidth":1,"color":"#2a788e","stroke":"#2a788e"}},
    {"transform":[{"filter":"datum.c=='Case 3'"}],"mark":{"type":"point","shape":"circle","filled":true,"opacity":1,"size":40,"strokeWidth":1,"color":"#22a884","stroke":"#22a884"}},
    {"transform":[{"filter":"datum.c=='Case 4'"}],"mark":{"type":"point","shape":"triangle-down","filled":true,"opacity":1,"size":48,"strokeWidth":1,"color":"#7ad151","stroke":"#7ad151"}}
   ]}
],
"config":{
 "font":"Liberation Serif",
 "view":{"stroke":"#262626","strokeWidth":1},
 "axis":{"labelFont":"Liberation Serif","labelFontSize":11,"labelColor":"#262626","domainColor":"#262626","domainWidth":1,"tickColor":"#262626","tickSize":3,"tickWidth":0.8,"gridColor":"#b0b0b0","gridWidth":0.8,"titleFont":"Liberation Serif","titleFontWeight":"normal","titleColor":"#262626","labelPadding":1,"labelFlush":false,"labelOverlap":false},
 "axisX":{"titleFontSize":16,"titleFontStyle":"italic","titlePadding":2},
 "axisY":{"titleFontSize":17,"titlePadding":0},
 "title":{"font":"Liberation Serif","fontSize":15,"fontWeight":"normal","color":"#262626","offset":-4},
 "legend":{"orient":"none","legendX":7,"legendY":7,"padding":5,"strokeColor":"#cccccc","fillColor":"#ffffff","cornerRadius":3,"labelFont":"Liberation Serif","labelFontSize":12,"labelColor":"#262626","rowPadding":6,"labelOffset":24,"symbolStrokeWidth":1,"symbolOpacity":1}
}
}
